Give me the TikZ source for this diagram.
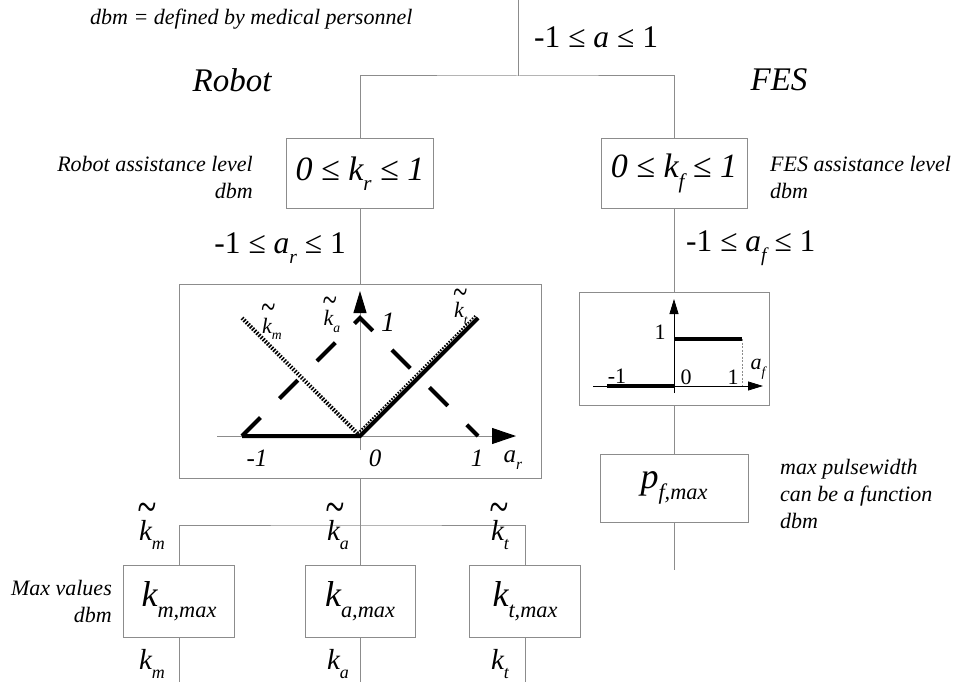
\documentclass[tikz,border=0pt]{standalone}
\usepackage{fontspec}
\setmainfont{Liberation Serif}
\usetikzlibrary{arrows.meta}
\definecolor{linegray}{RGB}{140,140,140}
\newcommand\sbs[1]{\raisebox{-0.3em}{\scalebox{0.62}{#1}}}
\newcommand\tk[1]{\makebox[0pt][l]{\hspace{-0.06em}\raisebox{0.6em}{\scalebox{1.2}[1.7]{\symbol{126}}}}k\sbs{#1}}
\begin{document}
\begin{tikzpicture}[x=1pt,y=-1pt,
  box/.style={draw=linegray,line width=1pt,inner sep=0pt},
  conn/.style={draw=linegray,line width=1pt},
  note/.style={font=\fontsize{22}{27}\selectfont\itshape,inner sep=0pt},
  ttl/.style={font=\fontsize{33}{40}\selectfont\itshape,inner sep=0pt},
  rng/.style={font=\fontsize{31.5}{36}\selectfont,inner sep=0pt},
  eqn/.style={font=\fontsize{34}{40}\selectfont\itshape},
  bigk/.style={font=\fontsize{36}{40}\selectfont\itshape},
  sig/.style={font=\fontsize{29}{34}\selectfont\itshape,inner sep=0pt},
  plab/.style={font=\fontsize{22}{26}\selectfont\itshape,inner sep=0pt},
  tick/.style={font=\fontsize{25}{28}\selectfont\itshape,inner sep=0pt},
  ftick/.style={font=\fontsize{22}{26}\selectfont,inner sep=0pt},
  thick4/.style={line width=4pt},
]
\useasboundingbox (0,0) rectangle (964,682);

% texts
\node[note,anchor=west] (dbmnote) at (90,19) {dbm = defined by medical personnel};
\node[ttl] (robot) at (232,80) {Robot};
\node[ttl] (fes) at (779,80) {FES};
\node[rng,anchor=west] (ra) at (534,37) {-1 ≤ \textit{a} ≤ 1};

% top boxes
\coordinate (tp) at (518,0);
\coordinate (tj) at (518,76);
\node[box,eqn,minimum width=147pt,minimum height=69pt] (kr) at (360,173.5) {0 ≤ k\sbs{r} ≤ 1};
\node[box,eqn,minimum width=146pt,minimum height=69pt] (kf) at (674,173.5) {0 ≤ k\sbs{f} ≤ 1};
\draw[conn] (tp) -- (tj);
\draw[conn] (kr.north) |- (tj) -| (kf.north);

\node[note,anchor=east,align=right] (ral) at (253,177) {Robot assistance level\\dbm};
\node[note,anchor=west,align=left] (fal) at (770,177) {FES assistance level\\dbm};

\node[rng,anchor=east] (arr) at (346,248) {-1 ≤ \textit{a}\sbs{\itshape r} ≤ 1};
\node[rng,anchor=west] (afr) at (686,248) {-1 ≤ \textit{a}\sbs{\itshape f} ≤ 1};

% robot plot box
\node[box,minimum width=362pt,minimum height=194pt] (rp) at (360,381) {};
\draw[conn] (kr.south) -- (rp.north);

% robot plot content
\coordinate (ro) at (360,436);
\coordinate (rxl) at (217,436);
\coordinate (rxr) at (516,436);
\coordinate (ryb) at (360,450);
\coordinate (ryt) at (360,291);
\coordinate (rm1) at (242,436);
\coordinate (rp1) at (478,436);
\coordinate (rtop) at (360,318);
\coordinate (rtl) at (242,318);
\coordinate (rtr) at (478,318);
\draw[linegray,line width=1pt,-{Triangle[length=24pt,width=16pt,color=black]}] (rxl) -- (rxr);
\draw[linegray,line width=1pt,-{Triangle[length=22pt,width=13pt,color=black]}] (ryb) -- (ryt);
\draw[thick4,dash pattern=on 26pt off 27pt] (rm1) -- (rtop) -- (rp1);
\draw[thick4,dash pattern=on 1.5pt off 1.5pt] (rtl) -- (ro);
\draw[thick4] (rm1) -- (ro) -- (rtr);
\draw[line width=2pt,dash pattern=on 1.5pt off 1.5pt] ([shift={(-2.5,-2.5)}]ro) -- ([shift={(-2.5,-2.5)}]rtr);

\node[plab] (lkm) at (272,322) {\tk{m}};
\node[plab] (lka) at (332,315) {\tk{a}};
\node[plab] (lkt) at (461,307) {\tk{t}};
\node[font=\fontsize{28}{30}\selectfont\itshape,inner sep=0pt] (lone) at (388,322) {1};
\node[tick] (tm1) at (257,458) {-1};
\node[tick] (t0) at (375,458) {0};
\node[tick] (t1) at (477,458) {1};
\node[tick] (tar) at (513,460) {a\sbs{r}};

% FES plot box
\node[box,minimum width=190pt,minimum height=113pt] (fp) at (674,348.5) {};
\draw[conn] (kf.south) -- (fp.north);
\coordinate (fo) at (674,386);
\coordinate (fxl) at (593,386);
\coordinate (fxr) at (763,386);
\coordinate (fyb) at (674,393);
\coordinate (fyt) at (674,299);
\coordinate (fm1) at (607,386);
\coordinate (fh0) at (674,339);
\coordinate (fh1) at (742,339);
\coordinate (fb1) at (742,386);
\draw[line width=0.8pt,-{Triangle[length=15pt,width=9pt]}] (fxl) -- (fxr);
\draw[line width=0.8pt,-{Triangle[length=15pt,width=9pt]}] (fyb) -- (fyt);
\draw[line width=3.5pt] (fm1) -- (fo);
\draw[line width=3.5pt] (fh0) -- (fh1);
\draw[linegray,line width=0.8pt,dash pattern=on 2pt off 1.5pt] (fh1) -- (fb1);
\node[ftick] (fl1) at (660,332) {1};
\node[ftick] (flm1) at (617,376) {-1};
\node[ftick] (fl0) at (686,377) {0};
\node[ftick] (flp1) at (733,377) {1};
\node[ftick] (flaf) at (758,369) {\textit{a}\sbs{\itshape f}};

% p_f,max
\node[box,bigk,minimum width=148pt,minimum height=68pt] (pf) at (674,488) {p\sbs{f,max}};
\coordinate (pfe) at (674,570);
\draw[conn] (fp.south) -- (pf.north);
\draw[conn] (pf.south) -- (pfe);
\node[note,anchor=west,align=left] (mpw) at (780,494) {max pulsewidth\\can be a function\\dbm};

% bottom robot part
\node[box,bigk,minimum width=111pt,minimum height=72pt] (km) at (179,601) {k\sbs{m,max}};
\node[box,bigk,minimum width=110pt,minimum height=72pt] (ka) at (360,601) {k\sbs{a,max}};
\node[box,bigk,minimum width=111pt,minimum height=72pt] (kt) at (525,601) {k\sbs{t,max}};
\coordinate (bj) at (360,525);
\draw[conn] (rp.south) -- (ka.north);
\draw[conn,line width=0.8pt] (km.north) |- (bj) -| (kt.north);
\coordinate (kme) at (179,682);
\coordinate (kae) at (360,682);
\coordinate (kte) at (525,682);
\draw[conn] (km.south) -- (kme);
\draw[conn] (ka.south) -- (kae);
\draw[conn] (kt.south) -- (kte);

\node[sig] (skm) at (152,526) {\tk{m}};
\node[sig] (ska) at (338,526) {\tk{a}};
\node[sig] (skt) at (500,526) {\tk{t}};
\node[sig] (okm) at (152,664) {k\sbs{m}};
\node[sig] (oka) at (338,664) {k\sbs{a}};
\node[sig] (okt) at (500,664) {k\sbs{t}};
\node[note,anchor=east,align=right] (mv) at (112,601) {Max values\\dbm};
\end{tikzpicture}
\end{document}
